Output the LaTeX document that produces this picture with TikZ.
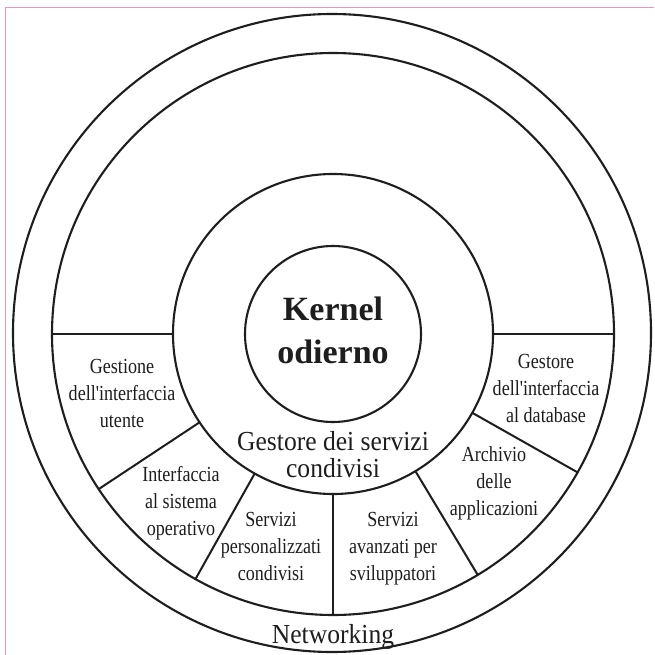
\documentclass[tikz,border=0pt]{standalone}
\usepackage{fontspec}
\setmainfont{Liberation Serif}
\newfontfamily\labfont{Liberation Serif}[FakeStretch=0.84]
\newfontfamily\midfont{Liberation Serif}[FakeStretch=0.93]
\usetikzlibrary{calc}
\definecolor{framepink}{RGB}{236,150,178}
\definecolor{ink}{RGB}{30,30,30}
\begin{document}
\begin{tikzpicture}[x=1pt,y=-1pt,
  ring/.style={draw=ink, line width=2.1pt},
  divider/.style={draw=ink, line width=2pt},
  lab/.style={align=center, anchor=base, inner sep=0pt, text=ink,
    font=\labfont\fontsize{21.5}{27}\selectfont},
  midlab/.style={align=center, anchor=base, inner sep=0pt, text=ink,
    font=\midfont\fontsize{27.5}{27}\selectfont},
  kernlab/.style={align=center, anchor=base, inner sep=0pt, text=ink,
    font=\bfseries\fontsize{34}{43}\selectfont}]
\useasboundingbox (0,0) rectangle (654,655);
\fill[white] (0,0) rectangle (654,655);
% page frame
\draw[framepink, line width=1pt] (5,655) -- (5,7.5) -- (654,7.5);
% centre
\coordinate (O) at (333,334);
% circles
\draw[ring] (332,333) circle[radius=319];
\draw[ring] (O) circle[radius=281];
\draw[ring] (O) circle[radius=160];
\draw[ring] (O) circle[radius=88];
% dividers between the rings
\foreach \a/\n in {0/a,29.5/b,59/c,90/d,119.3/e,146.5/f,180/g}{
  \coordinate (in\n) at ($(O)+(\a:160)$);
  \coordinate (out\n) at ($(O)+(\a:281)$);
  \draw[divider] (in\n) -- (out\n);
}
% texts (anchored at the baseline of the last line)
\node[kernlab] (kernel) at (333,363) {Kernel\\odierno};
\node[midlab] (gestore) at (333,477) {Gestore dei servizi\\condivisi};
\node[lab] (gui) at (122,427) {Gestione\\dell'interfaccia\\utente};
\node[lab] (os) at (181,535) {Interfaccia\\al sistema\\operativo};
\node[lab] (pers) at (271,580) {Servizi\\personalizzati\\condivisi};
\node[lab] (dev) at (393,580) {Servizi\\avanzati per\\sviluppatori};
\node[lab] (arch) at (494,515) {Archivio\\delle\\applicazioni};
\node[lab] (db) at (546,422) {Gestore\\dell'interfaccia\\al database};
\node[midlab] (net) at (333,643) {Networking};
\end{tikzpicture}
\end{document}
